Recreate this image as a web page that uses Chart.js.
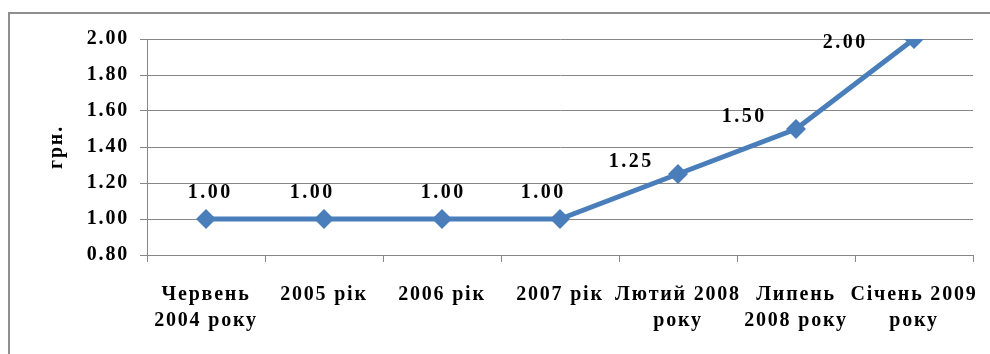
<!DOCTYPE html>
<html>
<head>
<meta charset="utf-8">
<script src="https://cdn.jsdelivr.net/npm/chart.js@4.4.1/dist/chart.umd.min.js"></script>
<style>
  html, body { margin: 0; padding: 0; background: #fff; }
  #wrap { position: relative; width: 990px; height: 354px; overflow: hidden; }
  #frame { position: absolute; left: 8px; top: 12px; width: 1200px; height: 600px; border: 2px solid #8f8f8f; }
  canvas { position: absolute; left: 0; top: 0; }
</style>
</head>
<body>
<div id="wrap">
  <div id="frame"></div>
  <canvas id="chart" width="990" height="354"></canvas>
</div>
<script>
    // --- DATA ---
    const categories = [
        ['Червень', '2004 року'],
        '2005 рік',
        '2006 рік',
        '2007 рік',
        ['Лютий 2008', 'року'],
        ['Липень', '2008 року'],
        ['Січень 2009', 'року']
    ];
    const prices = [1.00, 1.00, 1.00, 1.00, 1.25, 1.50, 2.00];
    const yTicks = [0.80, 1.00, 1.20, 1.40, 1.60, 1.80, 2.00];
    const yTitle = 'грн.';

    const serif = '"Liberation Serif", "Times New Roman", serif';
    const gridGray = '#868686';
    const lineBlue = '#4a7ebb';

    // labels sit above the points, shifted left where the line climbs
    const labelOffsets = [[3, -26], [-13, -26], [0, -26], [-18, -26], [-48, -12], [-53, -12], [-70, 4]];

    const spacingPlugin = {
        id: 'spacing',
        beforeDraw(chart) { chart.ctx.letterSpacing = '1.8px'; }
    };

    const valueLabels = {
        id: 'valueLabels',
        afterDatasetsDraw(chart) {
            const ctx = chart.ctx;
            const meta = chart.getDatasetMeta(0);
            ctx.save();
            ctx.letterSpacing = '2.5px';
            ctx.font = 'bold 20px ' + serif;
            ctx.fillStyle = '#000';
            ctx.textAlign = 'center';
            ctx.textBaseline = 'middle';
            meta.data.forEach((pt, i) => {
                const [dx, dy] = labelOffsets[i];
                ctx.fillText(prices[i].toFixed(2), pt.x + dx + 1.2, pt.y + dy);
            });
            ctx.restore();
        }
    };

    new Chart(document.getElementById('chart').getContext('2d'), {
        type: 'line',
        data: {
            labels: categories,
            datasets: [{
                data: prices,
                borderColor: lineBlue,
                backgroundColor: lineBlue,
                borderWidth: 5,
                pointStyle: 'rectRot',
                pointRadius: 10,
                pointHoverRadius: 10,
                pointBorderWidth: 0,
                tension: 0
            }]
        },
        options: {
            responsive: false,
            animation: false,
            events: [],
            layout: { padding: { left: 0, right: 17, top: 39, bottom: 0 } },
            plugins: { legend: { display: false }, tooltip: { enabled: false } },
            scales: {
                x: {
                    offset: true,
                    grid: { drawOnChartArea: false, color: gridGray, tickLength: 7, offset: true },
                    border: { color: gridGray, width: 1 },
                    ticks: {
                        color: '#000',
                        font: { family: serif, size: 20, weight: 'bold', lineHeight: 1.3 },
                        padding: 20,
                        maxRotation: 0,
                        autoSkip: false
                    },
                    afterFit(scale) { scale.height = 354 - 255; }
                },
                y: {
                    min: 0.8,
                    max: 2.0,
                    afterBuildTicks(scale) { scale.ticks = yTicks.map(v => ({ value: v })); },
                    grid: { color: gridGray, tickLength: 7 },
                    border: { color: gridGray, width: 1 },
                    ticks: {
                        color: '#000',
                        font: { family: serif, size: 20, weight: 'bold' },
                        padding: 11,
                        callback: v => v.toFixed(2)
                    },
                    title: {
                        display: true,
                        text: yTitle,
                        color: '#000',
                        font: { family: serif, size: 20, weight: 'bold' },
                        padding: { top: 45, bottom: 0 }
                    },
                    afterFit(scale) { scale.width = 147; }
                }
            }
        },
        plugins: [spacingPlugin, valueLabels]
    });
</script>
</body>
</html>
